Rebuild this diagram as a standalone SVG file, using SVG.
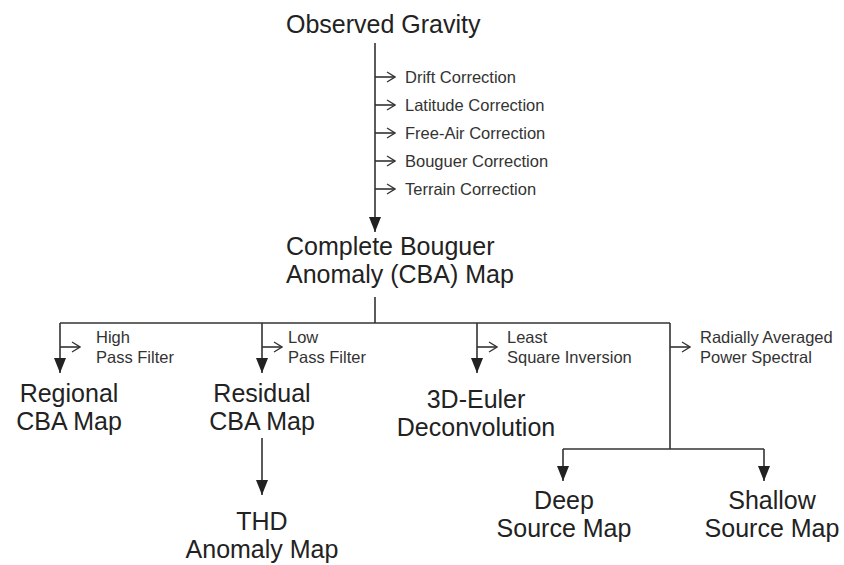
<svg xmlns="http://www.w3.org/2000/svg" width="844" height="565" viewBox="0 0 844 565">
<style>
.big{font-family:"Liberation Sans",Arial,sans-serif;font-size:25px;fill:#222}
.sm{font-family:"Liberation Sans",Arial,sans-serif;font-size:16.5px;fill:#333}
.ln{stroke:#333;stroke-width:1.6;fill:none}
</style>
<defs>
<marker id="fa" viewBox="0 0 15 12" refX="15" refY="6" markerWidth="15" markerHeight="12" markerUnits="userSpaceOnUse" orient="auto">
<path d="M0,0 L15,6 L0,12 z" fill="#222"/>
</marker>
<marker id="oa" viewBox="0 0 10 12" refX="9" refY="6" markerWidth="10" markerHeight="12" markerUnits="userSpaceOnUse" orient="auto">
<path d="M1,1 L9,6 L1,11" fill="none" stroke="#333" stroke-width="1.3"/>
</marker>
</defs>
<rect width="844" height="565" fill="#fff"/>
<g id="connectors">
<line class="ln" x1="375" y1="43" x2="375" y2="232" marker-end="url(#fa)"/>
<line class="ln" x1="375" y1="77" x2="395" y2="77" marker-end="url(#oa)"/>
<line class="ln" x1="375" y1="105" x2="395" y2="105" marker-end="url(#oa)"/>
<line class="ln" x1="375" y1="133" x2="395" y2="133" marker-end="url(#oa)"/>
<line class="ln" x1="375" y1="161" x2="395" y2="161" marker-end="url(#oa)"/>
<line class="ln" x1="375" y1="189" x2="395" y2="189" marker-end="url(#oa)"/>
<line class="ln" x1="375" y1="297" x2="375" y2="323"/>
<line class="ln" x1="60" y1="323" x2="670" y2="323"/>
<line class="ln" x1="60" y1="323" x2="60" y2="373" marker-end="url(#fa)"/>
<line class="ln" x1="262" y1="323" x2="262" y2="373" marker-end="url(#fa)"/>
<line class="ln" x1="477" y1="323" x2="477" y2="373" marker-end="url(#fa)"/>
<line class="ln" x1="670" y1="323" x2="670" y2="449"/>
<line class="ln" x1="60" y1="347" x2="80" y2="347" marker-end="url(#oa)"/>
<line class="ln" x1="262" y1="347" x2="282" y2="347" marker-end="url(#oa)"/>
<line class="ln" x1="477" y1="347" x2="497" y2="347" marker-end="url(#oa)"/>
<line class="ln" x1="670" y1="347" x2="690" y2="347" marker-end="url(#oa)"/>
<line class="ln" x1="262" y1="438" x2="262" y2="495" marker-end="url(#fa)"/>
<line class="ln" x1="563" y1="449" x2="764" y2="449"/>
<line class="ln" x1="563" y1="449" x2="563" y2="481" marker-end="url(#fa)"/>
<line class="ln" x1="764" y1="449" x2="764" y2="481" marker-end="url(#fa)"/>
</g>
<g id="observed"><text class="big" x="286" y="33">Observed Gravity</text></g>
<g id="corrections">
<text class="sm" x="405" y="83">Drift Correction</text>
<text class="sm" x="405" y="111">Latitude Correction</text>
<text class="sm" x="405" y="139">Free-Air Correction</text>
<text class="sm" x="405" y="167">Bouguer Correction</text>
<text class="sm" x="405" y="195">Terrain Correction</text>
</g>
<g id="cba"><text class="big" x="286" y="255">Complete Bouguer</text><text class="big" x="286" y="283">Anomaly (CBA) Map</text></g>
<g id="hpf"><text class="sm" x="96" y="343">High</text><text class="sm" x="96" y="363">Pass Filter</text></g>
<g id="lpf"><text class="sm" x="288" y="343">Low</text><text class="sm" x="288" y="363">Pass Filter</text></g>
<g id="lsi"><text class="sm" x="507" y="343">Least</text><text class="sm" x="507" y="363">Square Inversion</text></g>
<g id="raps"><text class="sm" x="700" y="343">Radially Averaged</text><text class="sm" x="700" y="363">Power Spectral</text></g>
<g id="regional" text-anchor="middle"><text class="big" x="69" y="402">Regional</text><text class="big" x="69" y="430">CBA Map</text></g>
<g id="residual" text-anchor="middle"><text class="big" x="262" y="402">Residual</text><text class="big" x="262" y="430">CBA Map</text></g>
<g id="euler" text-anchor="middle"><text class="big" x="476" y="408">3D-Euler</text><text class="big" x="476" y="436">Deconvolution</text></g>
<g id="thd" text-anchor="middle"><text class="big" x="262" y="530">THD</text><text class="big" x="262" y="558">Anomaly Map</text></g>
<g id="deep" text-anchor="middle"><text class="big" x="564" y="509">Deep</text><text class="big" x="564" y="537">Source Map</text></g>
<g id="shallow" text-anchor="middle"><text class="big" x="772" y="509">Shallow</text><text class="big" x="772" y="537">Source Map</text></g>
</svg>
